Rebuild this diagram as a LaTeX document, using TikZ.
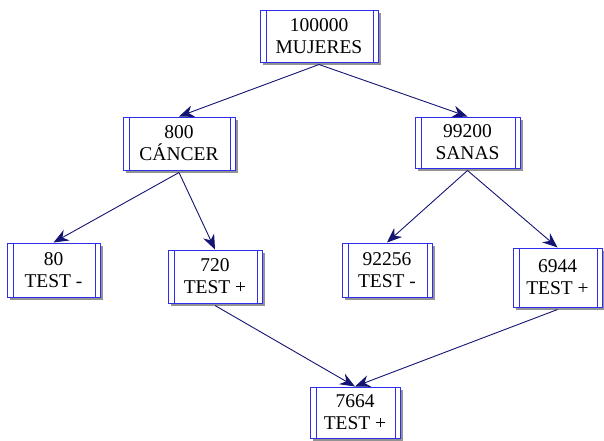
\documentclass[tikz,border=0pt]{standalone}
\usepackage{fontspec}
\setmainfont{Liberation Serif}
\usetikzlibrary{arrows.meta,shadows}
\definecolor{boxblue}{RGB}{45,45,235}
\definecolor{arrownavy}{RGB}{20,20,115}
\tikzset{
  caja/.style={draw=boxblue, line width=1pt, fill=white, align=center,
    inner sep=0pt, font=\fontsize{19.5}{22}\selectfont,
    drop shadow={shadow xshift=3pt, shadow yshift=-3pt, fill=gray!85, opacity=1},
    path picture={
      \draw[boxblue, line width=1pt]
        ([xshift=6pt]path picture bounding box.north west) -- ([xshift=6pt]path picture bounding box.south west)
        ([xshift=-5pt]path picture bounding box.north east) -- ([xshift=-5pt]path picture bounding box.south east);
    }},
  flecha/.style={arrownavy, line width=0.9pt, -{Stealth[length=15pt,width=12pt]}}
}
\begin{document}
\begin{tikzpicture}[x=1pt,y=-1pt]
\useasboundingbox (0,0) rectangle (604,440);
\node[caja, minimum width=118pt, minimum height=52pt] (mujeres) at (319,36)    {100000\\MUJERES};
\node[caja, minimum width=112pt, minimum height=53pt] (cancer)  at (179,143.5) {800\\CÁNCER};
\node[caja, minimum width=105pt, minimum height=51pt] (sanas)   at (467.5,142.5) {99200\\SANAS};
\node[caja, minimum width=93pt,  minimum height=54pt] (cneg)    at (53.5,270)  {80\\TEST -};
\node[caja, minimum width=94pt,  minimum height=53pt] (cpos)    at (215,276.5) {720\\TEST +};
\node[caja, minimum width=90pt,  minimum height=54pt] (sneg)    at (387,270)   {92256\\TEST -};
\node[caja, minimum width=89pt,  minimum height=59pt] (spos)    at (557.5,277.5) {6944\\TEST +};
\node[caja, minimum width=90pt,  minimum height=51pt] (tpos)    at (355,412.5) {7664\\TEST +};

\draw[flecha] ([yshift=-2pt]mujeres.south) -- (cancer.north);
\draw[flecha] ([yshift=-2pt]mujeres.south) -- (sanas.north);
\draw[flecha] ([yshift=-2pt]cancer.south) -- (cneg.north);
\draw[flecha] ([yshift=-2pt]cancer.south) -- (cpos.north);
\draw[flecha] ([yshift=-2pt]sanas.south) -- (sneg.north);
\draw[flecha] ([yshift=-2pt]sanas.south) -- (spos.north);
\draw[flecha] ([yshift=-2pt]cpos.south) -- (tpos.north);
\draw[flecha] ([yshift=-2pt]spos.south) -- (tpos.north);
\end{tikzpicture}
\end{document}
